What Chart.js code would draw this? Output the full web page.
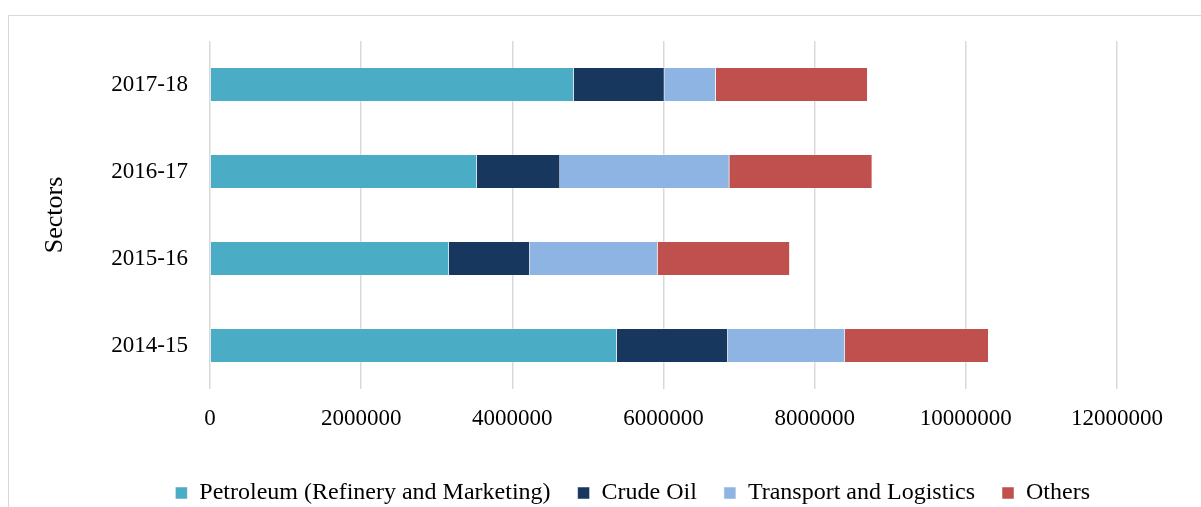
<!DOCTYPE html>
<html>
<head>
<meta charset="utf-8">
<script src="https://cdn.jsdelivr.net/npm/chart.js@4/dist/chart.umd.min.js"></script>
<style>
    html, body { margin: 0; padding: 0; background: #fff; }
    #wrap { position: relative; width: 1201px; height: 507px; overflow: hidden; }
    #frame { position: absolute; left: 8px; top: 15px; width: 1200px; height: 520px; border: 1.5px solid #d9d9d9; }
    #chart { position: absolute; left: 0; top: 0; }
</style>
</head>
<body>
<div id="wrap">
    <div id="frame"></div>
    <canvas id="chart" width="1201" height="540"></canvas>
</div>
<script>
const years = ['2017-18', '2016-17', '2015-16', '2014-15'];
const petroleum = [4810000, 3530000, 3160000, 5380000];
const crudeOil = [1200000, 1100000, 1070000, 1470000];
const transport = [680000, 2240000, 1690000, 1550000];
const others = [2010000, 1890000, 1750000, 1900000];
const xTicks = [0, 2000000, 4000000, 6000000, 8000000, 10000000, 12000000];

const serif = "'Liberation Serif', 'Times New Roman', serif";

function makeSet(label, data, color) {
    return {
        label,
        data,
        backgroundColor: color,
        borderColor: '#ffffff',
        borderWidth: 0.5,
        barPercentage: 0.39,
        categoryPercentage: 1.0,
    };
}

const ctx = document.getElementById('chart').getContext('2d');
new Chart(ctx, {
    type: 'bar',
    data: {
        labels: years,
        datasets: [
            makeSet('Petroleum (Refinery and Marketing)', petroleum, '#4bacc6'),
            makeSet('Crude Oil', crudeOil, '#17375e'),
            makeSet('Transport and Logistics', transport, '#8eb4e3'),
            makeSet('Others', others, '#c0504d'),
        ],
    },
    options: {
        indexAxis: 'y',
        responsive: false,
        animation: false,
        layout: { padding: { left: 40, right: 84, top: 41, bottom: 25 } },
        plugins: {
            tooltip: { enabled: false },
            legend: {
                position: 'bottom',
                align: 'end',
                labels: {
                    boxWidth: 12,
                    boxHeight: 12,
                    padding: 27,
                    color: '#000',
                    font: { family: serif, size: 24 },
                },
            },
        },
        scales: {
            x: {
                stacked: true,
                min: 0,
                max: 12000000,
                afterBuildTicks: (scale) => {
                    scale.ticks = xTicks.map((v) => ({ value: v }));
                },
                ticks: {
                    color: '#000',
                    padding: 16,
                    maxRotation: 0,
                    font: { family: serif, size: 23 },
                    callback: (v) => String(v),
                },
                grid: { color: '#d9d9d9', lineWidth: 1.5, tickLength: 0 },
                border: { display: false },
                afterFit: (scale) => { scale.height = 65; },
            },
            y: {
                stacked: true,
                ticks: {
                    color: '#000',
                    padding: 14,
                    font: { family: serif, size: 23 },
                },
                grid: { display: false },
                border: { display: false },
                title: {
                    display: true,
                    text: 'Sectors',
                    color: '#000',
                    font: { family: serif, size: 26 },
                    padding: 0,
                },
                afterFit: (scale) => { scale.width = 170; },
            },
        },
    },
});
</script>
</body>
</html>
